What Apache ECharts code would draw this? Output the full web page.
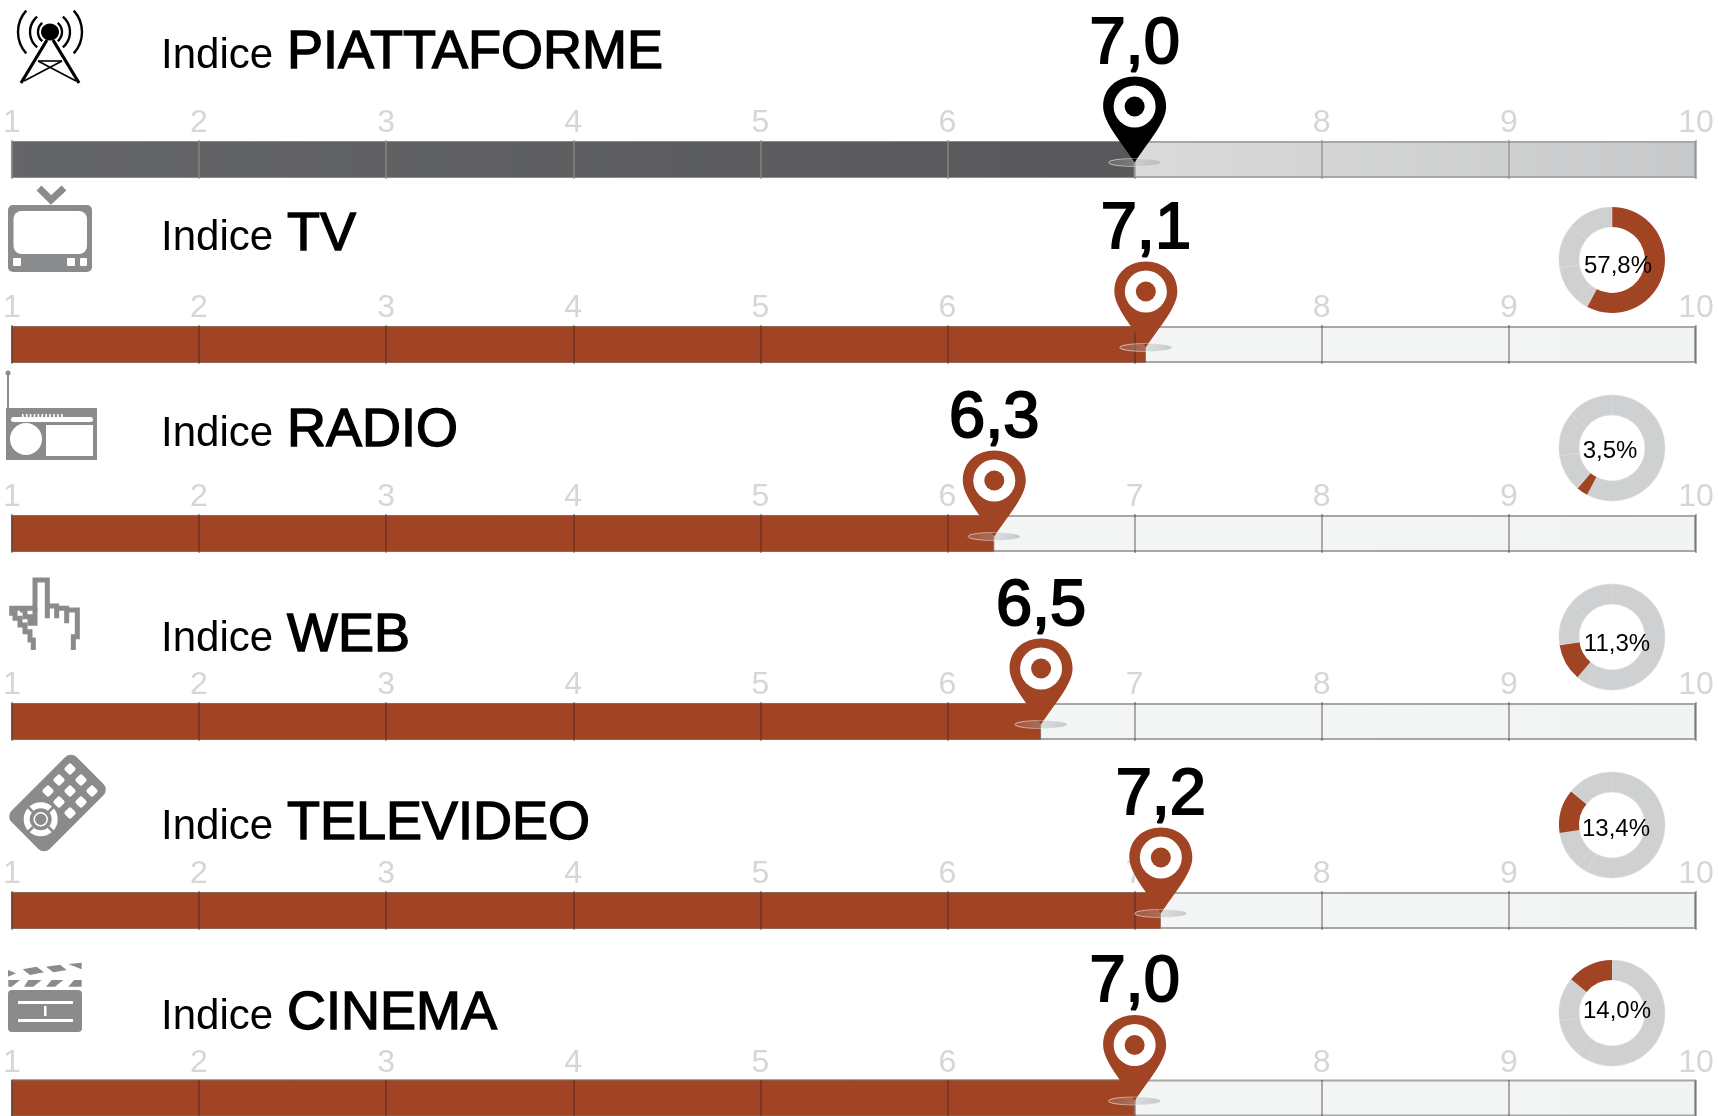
<!DOCTYPE html>
<html>
<head>
<meta charset="utf-8">
<title>Indici</title>
<script src="https://cdn.jsdelivr.net/npm/echarts@6/dist/echarts.min.js"></script>
<style>
  html, body { margin: 0; padding: 0; background: #fff; }
  #chart { width: 1718px; height: 1116px; }
</style>
</head>
<body>
<div id="chart"></div>
<script>
  var rowNames = ['PIATTAFORME', 'TV', 'RADIO', 'WEB', 'TELEVIDEO', 'CINEMA']
  var indexValues = [7.0, 7.06, 6.25, 6.5, 7.14, 7.0]
  var indexLabels = ['7,0', '7,1', '6,3', '6,5', '7,2', '7,0']
  var tickLabels = ['1', '2', '3', '4', '5', '6', '7', '8', '9', '10']
  var shareNames = ['TV', 'RADIO', 'WEB', 'TELEVIDEO', 'CINEMA']
  var shareValues = [57.8, 3.5, 11.3, 13.4, 14.0]
  var shareLabels = ['57,8%', '3,5%', '11,3%', '13,4%', '14,0%']

  // layout, measured on the picture
  var barTops = [140, 325, 514, 702, 891, 1080]
  var titleBase = [68, 250, 446, 651, 839, 1029]
  var donutY = [260, 448, 637, 825, 1013]
  var donutDx = [6, -2, 5, 4, 5]
  var donutDy = [6, 3, 7, 4, -2]

  var BROWN = '#a04423'
  var ICON = '#8a8b8d'
  var FONT = '"Liberation Sans", Arial, sans-serif'

  var chart = echarts.init(document.getElementById('chart'), null, { renderer: 'canvas' })

  function grad(a, b) {
    return new echarts.graphic.LinearGradient(0, 0, 1, 0, [
      { offset: 0, color: a },
      { offset: 1, color: b }
    ])
  }

  function renderPin(color) {
    return function(params, api) {
      var p = api.coord([api.value(0), 0])
      var x = p[0]
      var tip = p[1] + 3
      var label = indexLabels[api.value(1)]
      return {
        type: 'group',
        children: [
          {
            type: 'ellipse',
            shape: { cx: x, cy: tip, rx: 26, ry: 4 },
            style: { fill: grad('rgba(190,190,190,0.15)', 'rgba(170,172,174,0.6)') }
          },
          {
            type: 'path',
            shape: {
              pathData: 'M0 0C-13 -20 -31.5 -40 -31.5 -56C-31.5 -75 -17 -86 0 -86C17 -86 31.5 -75 31.5 -56C31.5 -40 13 -20 0 0Z',
              x: x - 31.5,
              y: tip - 86,
              width: 63,
              height: 86,
              layout: 'cover'
            },
            style: { fill: color }
          },
          {
            type: 'ellipse',
            shape: { cx: x, cy: tip, rx: 26, ry: 4 },
            style: { fill: 'none', stroke: grad('rgba(255,255,255,0.7)', 'rgba(255,255,255,0)'), lineWidth: 1 }
          },
          { type: 'circle', shape: { cx: x, cy: tip - 56, r: 21 }, style: { fill: '#fff' } },
          { type: 'circle', shape: { cx: x, cy: tip - 56, r: 10 }, style: { fill: color } },
          {
            type: 'text',
            x: x,
            y: tip - 85,
            style: {
              text: label,
              font: '65px ' + FONT,
              fill: '#000',
              stroke: '#000',
              lineWidth: 2,
              align: 'center',
              verticalAlign: 'bottom'
            }
          }
        ]
      }
    }
  }

  var grids = []
  var xAxes = []
  var yAxes = []
  var series = []
  var graphics = []

  rowNames.forEach(function(name, i) {
    var dark = i === 0
    grids.push({ left: 9, width: 1687, top: barTops[i], height: 39 })
    xAxes.push({
      gridIndex: i,
      type: 'value',
      position: 'top',
      min: 1,
      max: 10,
      interval: 1,
      z: 3,
      splitLine: { show: false },
      axisLine: { show: false },
      axisTick: {
        show: true,
        inside: true,
        length: 39,
        lineStyle: { width: 1.5, color: dark ? 'rgba(140,140,140,0.8)' : 'rgba(60,40,40,0.5)' }
      },
      axisLabel: {
        show: true,
        margin: 1,
        color: '#d6d6d6',
        fontFamily: FONT,
        fontSize: 32,
        showMinLabel: true,
        showMaxLabel: true,
        hideOverlap: false,
        formatter: function(v) { return tickLabels[v - 1] }
      }
    })
    yAxes.push({ gridIndex: i, type: 'category', data: [name], show: false })

    // full track
    series.push({
      type: 'bar',
      xAxisIndex: i,
      yAxisIndex: i,
      data: [10],
      barWidth: 37,
      barGap: '-100%',
      silent: true,
      itemStyle: {
        color: dark ? grad('#fdfdfd', '#c8c9ca') : grad('#f6f7f7', '#f2f3f3'),
        borderColor: '#a6a7a8',
        borderWidth: 2
      },
      z: 1
    })
    // value part
    series.push({
      type: 'bar',
      xAxisIndex: i,
      yAxisIndex: i,
      data: [indexValues[i]],
      barWidth: 37,
      barGap: '-100%',
      silent: true,
      itemStyle: {
        color: dark ? grad('#646567', '#58585a') : BROWN,
        borderColor: dark ? '#8a8b8c' : '#8f6a5a',
        borderWidth: 1
      },
      z: 2
    })
    // pin + value text
    series.push({
      type: 'custom',
      xAxisIndex: i,
      yAxisIndex: i,
      silent: true,
      data: [[indexValues[i], i]],
      encode: { x: 0 },
      renderItem: renderPin(dark ? '#000' : BROWN),
      z: 6
    })

    graphics.push({
      type: 'text',
      x: 161,
      y: titleBase[i] + 9,
      style: { text: 'Indice', font: '42px ' + FONT, fill: '#000', verticalAlign: 'bottom' }
    })
    graphics.push({
      type: 'text',
      x: 287,
      y: titleBase[i] + 12,
      style: { text: name, font: '54px ' + FONT, fill: '#000', stroke: '#000', lineWidth: 1.4, verticalAlign: 'bottom' }
    })
  })

  shareValues.forEach(function(v, i) {
    series.push({
      type: 'pie',
      center: [1612, donutY[i]],
      radius: [33, 53],
      startAngle: 90,
      clockwise: true,
      silent: true,
      label: { show: false },
      labelLine: { show: false },
      data: shareValues.map(function(val, j) {
        return {
          name: shareNames[j],
          value: val,
          itemStyle: j === i
            ? { color: BROWN, borderWidth: 0 }
            : { color: '#cfd0d1', borderColor: '#dadbdb', borderWidth: 0.6 }
        }
      }),
      z: 4
    })
    graphics.push({
      type: 'text',
      x: 1612 + donutDx[i],
      y: donutY[i] + donutDy[i],
      z: 10,
      style: { text: shareLabels[i], font: '24px ' + FONT, fill: '#000', align: 'center', verticalAlign: 'middle' }
    })
  })

  // icons
  function poly(pts, ox, oy, s, fill) {
    return {
      type: 'polygon',
      shape: { points: pts.map(function(p) { return [ox + p[0] * s, oy + p[1] * s] }) },
      style: { fill: fill }
    }
  }
  function rrect(x, y, w, h, r, fill) {
    return { type: 'rect', shape: { x: x, y: y, width: w, height: h, r: r }, style: { fill: fill } }
  }
  function line(pts, color, w) {
    return {
      type: 'polyline',
      shape: { points: pts },
      style: { stroke: color, lineWidth: w, fill: 'none', lineJoin: 'miter' }
    }
  }
  function arc(cx, cy, r, a, b) {
    return {
      type: 'arc',
      shape: { cx: cx, cy: cy, r: r, startAngle: a, endAngle: b, clockwise: true },
      style: { stroke: '#000', fill: 'none', lineWidth: 2.4 }
    }
  }

  // tower
  var d = Math.PI / 180
  graphics.push({ type: 'ellipse', shape: { cx: 50, cy: 32, rx: 9, ry: 8.5 }, style: { fill: '#000' } })
  ;[12, 20, 32].forEach(function(r) {
    var sp = r > 25 ? 42 : 50
    graphics.push(arc(50, 32, r, (180 - sp) * d, (180 + sp) * d))
    graphics.push(arc(50, 32, r, (360 - sp) * d, (360 + sp) * d))
  })
  graphics.push(line([[21, 83], [47, 40]], '#000', 3.2))
  graphics.push(line([[79, 83], [53, 40]], '#000', 3.2))
  graphics.push(line([[38, 61], [62, 61]], '#000', 1.6))
  graphics.push(line([[38, 61], [76, 81]], '#000', 1.6))
  graphics.push(line([[62, 61], [24, 81]], '#000', 1.6))

  // tv
  graphics.push(line([[39, 188], [51, 200], [64, 188]], ICON, 7))
  graphics.push(rrect(8, 205, 84, 67, 5, ICON))
  graphics.push(rrect(13.5, 211, 73.5, 43, 8, '#fff'))
  graphics.push(rrect(13, 258, 8, 8, 1, '#fff'))
  graphics.push(rrect(67, 258, 8, 8, 1, '#fff'))
  graphics.push(rrect(80, 258, 7, 8, 1, '#fff'))

  // radio
  graphics.push(line([[8, 373], [8, 408]], ICON, 2))
  graphics.push({ type: 'circle', shape: { cx: 8, cy: 373, r: 2.5 }, style: { fill: ICON } })
  graphics.push(rrect(6, 408, 91, 52, 0, ICON))
  graphics.push(rrect(11, 417, 82, 5, 2.5, '#fff'))
  for (var t = 0; t < 11; t++) graphics.push(rrect(22 + t * 3.9, 414, 1.6, 3, 0, '#fff'))
  graphics.push({ type: 'circle', shape: { cx: 26, cy: 439, r: 16 }, style: { fill: '#fff' } })
  graphics.push(rrect(46, 425, 47, 31, 0, '#fff'))

  // hand
  var handPts = [
    [100, 870], [100, 840], [90, 840], [90, 815], [75, 815], [75, 795], [60, 795], [60, 775], [45, 775], [45, 760],
    [35, 760], [35, 745], [65, 745], [105, 745], [105, 660], [142, 660], [142, 775], [142, 738], [170, 738],
    [170, 775], [170, 745], [200, 745], [200, 790], [200, 750], [232, 750], [232, 830], [220, 830], [220, 870]
  ]
  var handStair = [[60, 750], [75, 750], [75, 770], [90, 770], [90, 790], [105, 790], [105, 745]]
  function handLine(pts) {
    return line(pts.map(function(p) { return [p[0] / 3, 360 + p[1] / 3] }), ICON, 5)
  }
  graphics.push(handLine(handPts))
  graphics.push(handLine(handStair))

  // remote
  graphics.push({
    type: 'rect',
    shape: { x: -46, y: -27, width: 92, height: 54, r: 8 },
    x: 57.5,
    y: 803,
    rotation: Math.PI / 4,
    style: { fill: ICON }
  })
  ;[[210, 87], [177, 120], [243, 120], [144, 153], [210, 153], [276, 153], [177, 186], [243, 186], [210, 219]].forEach(function(b) {
    graphics.push({
      type: 'rect',
      shape: { x: -4.5, y: -4.5, width: 9, height: 9, r: 2 },
      x: b[0] / 3,
      y: 740 + b[1] / 3,
      rotation: Math.PI / 4,
      style: { fill: '#fff' }
    })
  })
  graphics.push({ type: 'circle', shape: { cx: 40.7, cy: 819.3, r: 14 }, style: { fill: 'none', stroke: '#fff', lineWidth: 6 } })
  graphics.push({ type: 'circle', shape: { cx: 40.7, cy: 819.3, r: 6.5 }, style: { fill: 'none', stroke: '#fff', lineWidth: 1.5 } })
  graphics.push(line([[28, 807], [33, 812]], ICON, 2.5))
  graphics.push(line([[53.4, 807], [48.4, 812]], ICON, 2.5))
  graphics.push(line([[28, 832], [33, 827]], ICON, 2.5))
  graphics.push(line([[53.4, 832], [48.4, 827]], ICON, 2.5))

  // clapper
  var clapPieces = [
    [[25, 720], [60, 720], [35, 740], [25, 740]],
    [[85, 720], [125, 720], [100, 740], [72, 740]],
    [[155, 720], [190, 720], [165, 740], [138, 740]],
    [[222, 720], [245, 720], [245, 740], [205, 740]],
    [[24, 690], [48, 700], [24, 710]],
    [[68, 688], [110, 680], [132, 697], [90, 705]],
    [[138, 680], [180, 674], [200, 690], [160, 697]],
    [[205, 672], [245, 668], [245, 688]]
  ]
  clapPieces.forEach(function(p) { graphics.push(poly(p, 0, 740, 1 / 3, ICON)) })
  graphics.push(rrect(8, 990, 74, 42, 4, ICON))
  graphics.push(rrect(18, 1001, 55, 3, 0, '#fff'))
  graphics.push(rrect(18, 1019, 55, 3, 0, '#fff'))
  graphics.push(rrect(44, 1006, 2.5, 10, 0, '#fff'))

  chart.setOption({
    animation: false,
    backgroundColor: '#fff',
    textStyle: { fontFamily: FONT },
    grid: grids,
    xAxis: xAxes,
    yAxis: yAxes,
    series: series,
    graphic: { elements: graphics }
  })

  window.addEventListener('resize', function() {
    chart.resize()
  })
</script>
</body>
</html>
